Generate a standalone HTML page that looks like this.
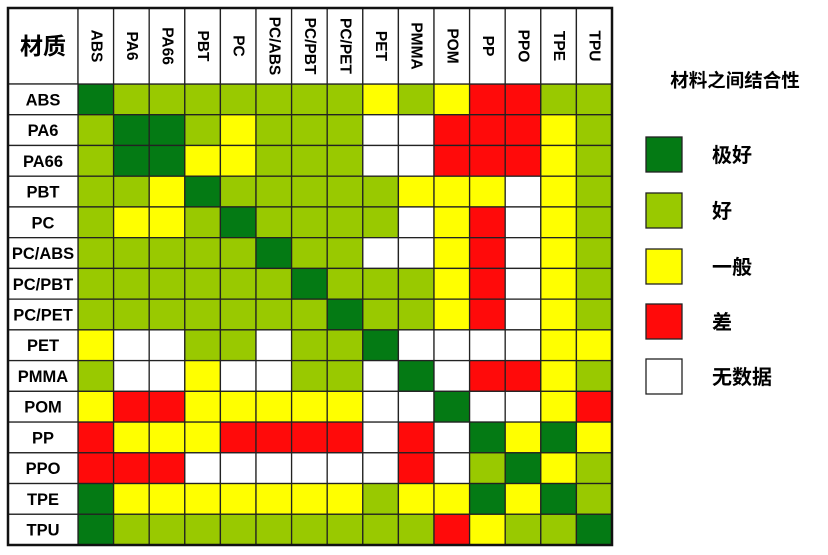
<!DOCTYPE html>
<html><head><meta charset="utf-8">
<style>
body{margin:0;background:#fff;width:828px;height:550px;overflow:hidden}
svg text{font-family:"Liberation Sans","Noto Sans CJK SC",sans-serif;font-weight:bold;fill:#000}
</style></head>
<body>
<svg id="chart" width="828" height="550" xmlns="http://www.w3.org/2000/svg"></svg>
<script>
const materials = ["ABS","PA6","PA66","PBT","PC","PC/ABS","PC/PBT","PC/PET","PET","PMMA","POM","PP","PPO","TPE","TPU"];
const levelKeys = ["D","G","Y","R","W"];
const levelLabels = ["极好","好","一般","差","无数据"];
const levelColors = {D:"#047a14",G:"#99c900",Y:"#ffff00",R:"#ff0a0a",W:"#ffffff"};
const matrix = [
"DGGGGGGGYGYRRGG",
"GDDGYGGGWWRRRYG",
"GDDYYGGGWWRRRYG",
"GGYDGGGGGYYYWYG",
"GYYGDGGGGWYRWYG",
"GGGGGDGGWWYRWYG",
"GGGGGGDGGGYRWYG",
"GGGGGGGDGGYRWYG",
"YWWGGWGGDWWWWYY",
"GWWYWWGGWDWRRYG",
"YRRYYYYYWWDWWYR",
"RYYYRRRRWRWDYDY",
"RRRWWWWWWRWGDYG",
"DYYYYYYYGYYDYDG",
"DGGGGGGGGGRYGGD"
];
const svg=document.getElementById('chart');
const NS="http://www.w3.org/2000/svg";
const L=8,C0=78,R=612,T=8,H0=84,B=545;
const cw=(R-C0)/materials.length, rh=(B-H0)/materials.length;
const xs=i=>C0+i*cw, ys=j=>H0+j*rh;
function mk(tag,attrs,txt){const e=document.createElementNS(NS,tag);for(const k in attrs)e.setAttribute(k,attrs[k]);if(txt!==undefined)e.textContent=txt;svg.appendChild(e);return e;}
matrix.forEach((row,j)=>{
  row.split('').forEach((c,i)=>{
    const r=mk('rect',{x:xs(i),y:ys(j),width:cw,height:rh,fill:levelColors[c],stroke:'#222','stroke-width':1.3});
    
    
  });
});
let corner=mk('rect',{x:L,y:T,width:C0-L,height:H0-T,fill:'#fff',stroke:'#222','stroke-width':1.3});


let ct=mk('text',{x:(L+C0)/2,y:(T+H0)/2+8,'text-anchor':'middle','font-size':23},'材质');


materials.forEach((m,i)=>{
  const h=mk('rect',{x:xs(i),y:T,width:cw,height:H0-T,fill:'#fff',stroke:'#222','stroke-width':1.3});
  
  
  const cx=xs(i)+cw/2, cy=(T+H0)/2;
  const t=mk('text',{x:cx,y:cy,'text-anchor':'middle','dominant-baseline':'central','font-size':15.5,transform:`rotate(90 ${cx} ${cy})`},m);
  
  
  const rr=mk('rect',{x:L,y:ys(i),width:C0-L,height:rh,fill:'#fff',stroke:'#222','stroke-width':1.3});
  
  
  const rt=mk('text',{x:(L+C0)/2,y:ys(i)+rh/2+6,'text-anchor':'middle','font-size':16.5},m);
  
  
});
let border=mk('rect',{x:L,y:T,width:R-L,height:B-T,fill:'none',stroke:'#111','stroke-width':2.5});


let lt=mk('text',{x:735,y:87,'text-anchor':'middle','font-size':18.5},'材料之间结合性');


const legY=[137,193,249,304,359];
levelKeys.forEach((k,n)=>{
  const s=mk('rect',{x:646,y:legY[n],width:36,height:35,fill:levelColors[k],stroke:'#222','stroke-width':1.3});
  
  
  const t=mk('text',{x:712,y:legY[n]+25,'font-size':20},levelLabels[n]);
  
  
});
</script>
</body></html>
